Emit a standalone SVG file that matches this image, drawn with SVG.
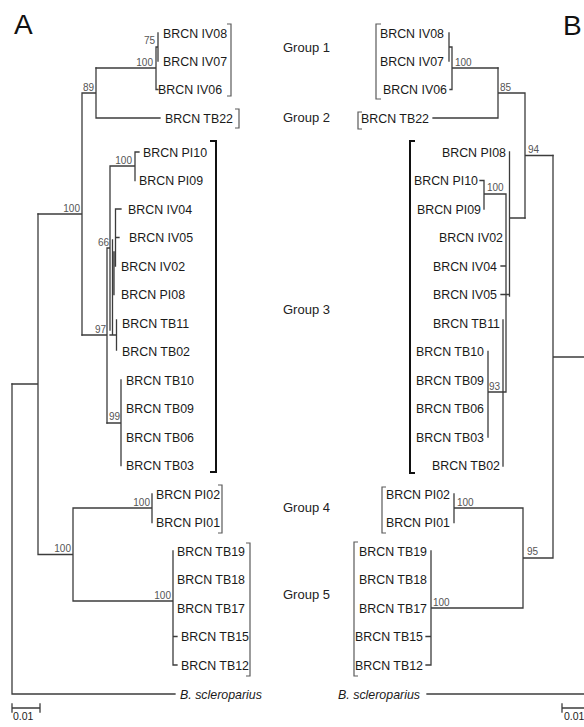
<svg xmlns="http://www.w3.org/2000/svg" width="584" height="727" viewBox="0 0 584 727">
<style>
.bg{fill:#fff}
.ln{stroke:#3c3c3c;stroke-width:1.3;fill:none;stroke-linecap:square}
.br{stroke:#5a5a5a;stroke-width:1.2;fill:none}
.br3{stroke:#111;stroke-width:2;fill:none}
text{font-family:"Liberation Sans",Arial,sans-serif}
.lf{font-size:12.4px;fill:#1a1a1a}
.lfe{font-size:12.4px;fill:#1a1a1a;text-anchor:end}
.it{font-style:italic}
.bs{font-size:10px;fill:#555}
.bse{font-size:10px;fill:#555;text-anchor:end}
.grp{font-size:13px;fill:#222}
.big{font-size:28px;fill:#111}
.sc{font-size:10.5px;fill:#222}
</style>
<rect class="bg" x="0" y="0" width="584" height="727"/>
<text class="big" x="14" y="34">A</text>
<text class="big" x="563" y="35">B</text>

<g id="connectors">
 <g id="treeA-lines">
  <path class="ln" d="M158,33V61 M156,47H158 M156,47V89.5H158 M96,68H156"/>
  <path class="ln" d="M96,118H160 M96,68V118 M82,93H96 M82,93V335 M38,214H82"/>
  <path class="ln" d="M82,335H107 M107,248V423 M107,248H110 M110,166V330 M110,166H135 M135,152V180.5 M135,152H139"/>
  <path class="ln" d="M112.5,240V335 M115.5,209V266 M115.5,209H121 M115.5,237.5H119 M114,252V294.5 M110,335H116.5 M116.5,320V350"/>
  <path class="ln" d="M107,423H121 M121,380V465.5"/>
  <path class="ln" d="M12,384H38 M38,214V554.5 M38,554.5H73 M73,508V601 M73,508H152 M152,494V522.5 M73,601H173 M173,551V665 M173,636.5H177 M173,665H177"/>
  <path class="ln" d="M12,384V694 M12,694H175"/>
  <path class="ln" d="M12,708H40 M12,704V712 M40,704V712"/>
 </g>
 <g id="treeB-lines">
  <path class="ln" d="M449,33V61 M449,47H452 M452,47V89.5H450 M452,68H498"/>
  <path class="ln" d="M433,118H498 M498,68V118 M498,93H525 M525,93V218 M525,155.5H553"/>
  <path class="ln" d="M509.5,152V296 M509.5,218H525 M484,180.5V209 M480,180.5H484 M484,194H506 M506,194V392 M501,266H506 M501,294.5H509.5 M503,320V466 M488,351.5V437 M488,392H506"/>
  <path class="ln" d="M553,155.5V558 M553,357H590 M523,558H553 M523,508V608 M454,508H523 M454,494V522.5 M431,608H523 M431,551V665 M426,636.5H431 M426,665H431"/>
  <path class="ln" d="M427,694H590"/>
  <path class="ln" d="M562,708H590 M562,704V712"/>
 </g>
 <g id="brackets">
  <path class="br" d="M227,24H231V96H227"/>
  <path class="br" d="M235,109H239V128H235"/>
  <path class="br3" d="M210,141H216V472H210"/>
  <path class="br" d="M218,485H222V533H218"/>
  <path class="br" d="M246,543H250V676H246"/>
  <path class="br" d="M381,24H376V99H381"/>
  <path class="br" d="M362,112H358V129H362"/>
  <path class="br3" d="M415,141H410V473H415"/>
  <path class="br" d="M386,487H382V533H386"/>
  <path class="br" d="M358,542H354V676H358"/>
 </g>
</g>

<g id="supportA">
 <text class="bse" x="155" y="44">75</text>
 <text class="bse" x="153" y="66">100</text>
 <text class="bse" x="94" y="91">89</text>
 <text class="bse" x="80" y="212">100</text>
 <text class="bse" x="132" y="164">100</text>
 <text class="bse" x="109" y="246">66</text>
 <text class="bse" x="106" y="333">97</text>
 <text class="bse" x="120" y="420">99</text>
 <text class="bse" x="150" y="506">100</text>
 <text class="bse" x="71" y="552">100</text>
 <text class="bse" x="171" y="599">100</text>
</g>
<g id="supportB">
 <text class="bs" x="455" y="66">100</text>
 <text class="bs" x="500" y="91">85</text>
 <text class="bs" x="528" y="153">94</text>
 <text class="bs" x="487" y="191">100</text>
 <text class="bs" x="489" y="390">93</text>
 <text class="bs" x="457" y="506">100</text>
 <text class="bs" x="433" y="606">100</text>
 <text class="bs" x="527" y="555">95</text>
</g>

<g id="groups">
 <g id="group1"><text class="grp" x="283" y="52">Group 1</text></g>
 <g id="group2"><text class="grp" x="283" y="122">Group 2</text></g>
 <g id="group3"><text class="grp" x="283" y="314">Group 3</text></g>
 <g id="group4"><text class="grp" x="283" y="512">Group 4</text></g>
 <g id="group5"><text class="grp" x="283" y="599">Group 5</text></g>
</g>

<g id="treeA-leaves">
 <g id="A-IV08"><text class="lf" x="163" y="37.5">BRCN IV08</text></g>
 <g id="A-IV07"><text class="lf" x="163" y="65.5">BRCN IV07</text></g>
 <g id="A-IV06"><text class="lf" x="158" y="94">BRCN IV06</text></g>
 <g id="A-TB22"><text class="lf" x="165" y="122.5">BRCN TB22</text></g>
 <g id="A-PI10"><text class="lf" x="143" y="156.5">BRCN PI10</text></g>
 <g id="A-PI09"><text class="lf" x="139" y="185">BRCN PI09</text></g>
 <g id="A-IV04"><text class="lf" x="128" y="213.5">BRCN IV04</text></g>
 <g id="A-IV05"><text class="lf" x="129" y="242">BRCN IV05</text></g>
 <g id="A-IV02"><text class="lf" x="121" y="270.5">BRCN IV02</text></g>
 <g id="A-PI08"><text class="lf" x="121" y="299">BRCN PI08</text></g>
 <g id="A-TB11"><text class="lf" x="122" y="327.5">BRCN TB11</text></g>
 <g id="A-TB02"><text class="lf" x="122" y="356">BRCN TB02</text></g>
 <g id="A-TB10"><text class="lf" x="126" y="384.5">BRCN TB10</text></g>
 <g id="A-TB09"><text class="lf" x="126" y="413">BRCN TB09</text></g>
 <g id="A-TB06"><text class="lf" x="126" y="441.5">BRCN TB06</text></g>
 <g id="A-TB03"><text class="lf" x="126" y="470">BRCN TB03</text></g>
 <g id="A-PI02"><text class="lf" x="156" y="498.5">BRCN PI02</text></g>
 <g id="A-PI01"><text class="lf" x="156" y="527">BRCN PI01</text></g>
 <g id="A-TB19"><text class="lf" x="177" y="555.5">BRCN TB19</text></g>
 <g id="A-TB18"><text class="lf" x="177" y="584">BRCN TB18</text></g>
 <g id="A-TB17"><text class="lf" x="177" y="612.5">BRCN TB17</text></g>
 <g id="A-TB15"><text class="lf" x="181" y="641">BRCN TB15</text></g>
 <g id="A-TB12"><text class="lf" x="181" y="669.5">BRCN TB12</text></g>
 <g id="A-outgroup"><text class="lf it" x="180" y="698.5">B. scleroparius</text></g>
 <g id="A-scale"><text class="sc" x="13" y="720">0.01</text></g>
</g>

<g id="treeB-leaves">
 <g id="B-IV08"><text class="lfe" x="444" y="37.5">BRCN IV08</text></g>
 <g id="B-IV07"><text class="lfe" x="444" y="65.5">BRCN IV07</text></g>
 <g id="B-IV06"><text class="lfe" x="447" y="94">BRCN IV06</text></g>
 <g id="B-TB22"><text class="lfe" x="429" y="122.5">BRCN TB22</text></g>
 <g id="B-PI08"><text class="lfe" x="506" y="156.5">BRCN PI08</text></g>
 <g id="B-PI10"><text class="lfe" x="478" y="185">BRCN PI10</text></g>
 <g id="B-PI09"><text class="lfe" x="481" y="213.5">BRCN PI09</text></g>
 <g id="B-IV02"><text class="lfe" x="503" y="242">BRCN IV02</text></g>
 <g id="B-IV04"><text class="lfe" x="497" y="270.5">BRCN IV04</text></g>
 <g id="B-IV05"><text class="lfe" x="497" y="299">BRCN IV05</text></g>
 <g id="B-TB11"><text class="lfe" x="500" y="327.5">BRCN TB11</text></g>
 <g id="B-TB10"><text class="lfe" x="484" y="356">BRCN TB10</text></g>
 <g id="B-TB09"><text class="lfe" x="484" y="384.5">BRCN TB09</text></g>
 <g id="B-TB06"><text class="lfe" x="484" y="413">BRCN TB06</text></g>
 <g id="B-TB03"><text class="lfe" x="484" y="441.5">BRCN TB03</text></g>
 <g id="B-TB02"><text class="lfe" x="500" y="470">BRCN TB02</text></g>
 <g id="B-PI02"><text class="lfe" x="450" y="498.5">BRCN PI02</text></g>
 <g id="B-PI01"><text class="lfe" x="450" y="527">BRCN PI01</text></g>
 <g id="B-TB19"><text class="lfe" x="427" y="555.5">BRCN TB19</text></g>
 <g id="B-TB18"><text class="lfe" x="427" y="584">BRCN TB18</text></g>
 <g id="B-TB17"><text class="lfe" x="427" y="612.5">BRCN TB17</text></g>
 <g id="B-TB15"><text class="lfe" x="423" y="641">BRCN TB15</text></g>
 <g id="B-TB12"><text class="lfe" x="423" y="669.5">BRCN TB12</text></g>
 <g id="B-outgroup"><text class="lfe it" x="420" y="698.5">B. scleroparius</text></g>
 <g id="B-scale"><text class="sc" x="564" y="720">0.01</text></g>
</g>
</svg>
